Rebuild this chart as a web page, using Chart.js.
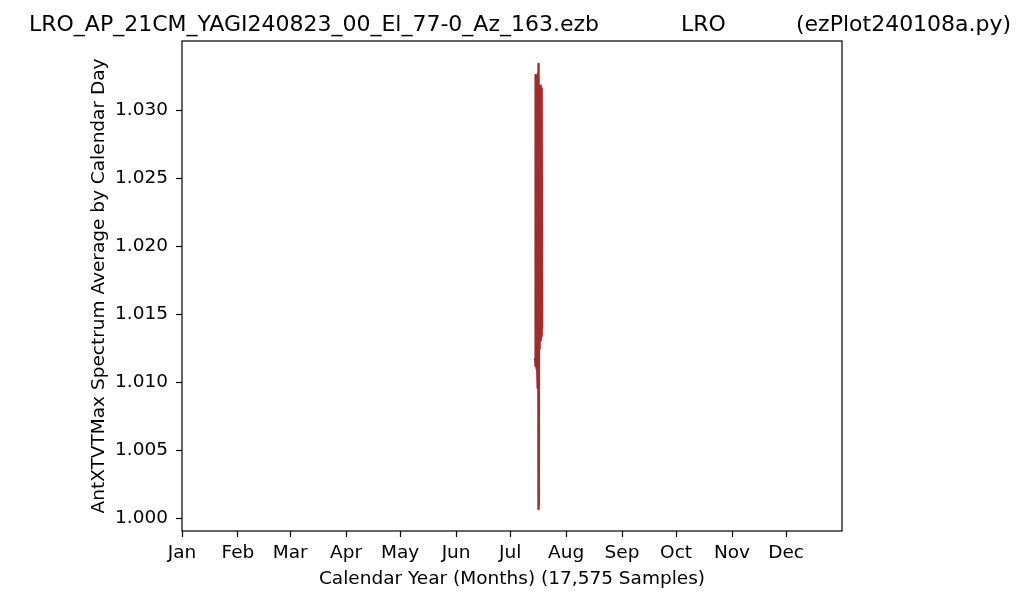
<!DOCTYPE html>
<html>
<head>
<meta charset="utf-8">
<title>LRO AntXTVTMax</title>
<script src="https://cdn.jsdelivr.net/npm/chart.js@4.4.1/dist/chart.umd.min.js"></script>
<style>
  html, body { margin: 0; padding: 0; background: #ffffff; }
  #wrap { width: 1024px; height: 603px; }
</style>
</head>
<body>
<div id="wrap"><canvas id="ezPlot" width="1024" height="603"></canvas></div>
<script>
// title pieces
var titleParts = ["LRO_AP_21CM_YAGI240823_00_El_77-0_Az_163.ezb", "LRO", "(ezPlot240108a.py)"];

// x axis: day of year, month ticks
var monthDays = [0, 31, 60, 91, 121, 152, 182, 213, 244, 274, 305, 335];
var monthNames = ["Jan", "Feb", "Mar", "Apr", "May", "Jun", "Jul", "Aug", "Sep", "Oct", "Nov", "Dec"];

// y axis ticks
var yTicks = [1.000, 1.005, 1.010, 1.015, 1.020, 1.025, 1.030];

// trace (day of year, average)
var dayValues = [
    195.8, 195.95, 196.1, 196.25, 196.4, 196.55, 196.7, 196.85, 197.0, 197.15,
    197.3, 197.45, 197.6, 197.7, 197.75, 197.85, 198.0, 198.15, 198.3, 198.45,
    198.6, 198.75, 198.9, 199.05, 199.2, 199.35, 199.5, 199.65, 199.4, 199.1,
    198.8, 198.5, 198.2, 197.9, 197.8, 197.85
];
var avgValues = [
    1.0118, 1.0326, 1.0112, 1.0324, 1.0115, 1.0325, 1.0110, 1.0322, 1.0111, 1.0318,
    1.0096, 1.0327, 1.0334, 1.0120, 1.0007, 1.0150, 1.0310, 1.0125, 1.0318, 1.0128,
    1.0317, 1.0131, 1.0318, 1.0132, 1.0316, 1.0134, 1.0308, 1.0140, 1.0301, 1.0136,
    1.0314, 1.0130, 1.0316, 1.0122, 1.0010, 1.0140
];

var points = [];
for (var i = 0; i < dayValues.length; i++) {
    points.push({ x: dayValues[i], y: avgValues[i] });
}

var fontFamily = "'DejaVu Sans', sans-serif";
var labelSize = 18.5;

// frame + title drawn like matplotlib
var framePlugin = {
    id: 'frame',
    afterDraw: function(chart) {
        var ctx = chart.ctx;
        var a = chart.chartArea;
        ctx.save();
        ctx.strokeStyle = '#000000';
        ctx.lineWidth = 1.2;
        ctx.strokeRect(a.left, a.top, a.right - a.left, a.bottom - a.top);
        ctx.fillStyle = '#000000';
        ctx.font = "22px " + fontFamily;
        ctx.textBaseline = 'alphabetic';
        ctx.textAlign = 'left';
        ctx.fillText(titleParts[0], 29, 31);
        ctx.fillText(titleParts[1], 681, 31);
        ctx.fillText(titleParts[2], 796, 31);
        ctx.restore();
    }
};

var ctx = document.getElementById("ezPlot").getContext("2d");
var chart = new Chart(ctx, {
    type: 'scatter',
    data: {
        datasets: [
            {
                label: "AntXTVTMax",
                data: points,
                showLine: true,
                borderColor: "#a52a2a",
                backgroundColor: "#a52a2a",
                borderWidth: 2.4,
                borderJoinStyle: 'round',
                borderCapStyle: 'butt',
                pointRadius: 0,
                tension: 0
            }
        ]
    },
    plugins: [framePlugin],
    options: {
        responsive: false,
        animation: false,
        devicePixelRatio: 1,
        layout: {
            padding: { left: 0, right: 182, top: 41, bottom: 0 }
        },
        plugins: {
            legend: { display: false },
            title: { display: false },
            tooltip: { enabled: false }
        },
        scales: {
            x: {
                type: 'linear',
                min: 0,
                max: 366,
                afterBuildTicks: function(scale) {
                    scale.ticks = monthDays.map(function(d) { return { value: d }; });
                },
                afterFit: function(scale) { scale.height = 72; },
                grid: {
                    drawOnChartArea: false,
                    drawTicks: true,
                    tickLength: 6,
                    tickColor: '#000000',
                    tickWidth: 1.2
                },
                border: { display: false },
                ticks: {
                    autoSkip: false,
                    maxRotation: 0,
                    padding: 5,
                    color: '#000000',
                    font: { family: fontFamily, size: labelSize },
                    callback: function(value, index) { return monthNames[index]; }
                },
                title: {
                    display: true,
                    text: "Calendar Year (Months) (17,575 Samples)",
                    color: '#000000',
                    font: { family: fontFamily, size: labelSize },
                    padding: { top: 0, bottom: 13 }
                }
            },
            y: {
                type: 'linear',
                min: 0.99908,
                max: 1.03509,
                afterBuildTicks: function(scale) {
                    scale.ticks = yTicks.map(function(v) { return { value: v }; });
                },
                afterFit: function(scale) { scale.width = 182; },
                grid: {
                    drawOnChartArea: false,
                    drawTicks: true,
                    tickLength: 6,
                    tickColor: '#000000',
                    tickWidth: 1.2
                },
                border: { display: false },
                ticks: {
                    padding: 8,
                    color: '#000000',
                    font: { family: fontFamily, size: labelSize },
                    callback: function(value) { return Number(value).toFixed(3); }
                },
                title: {
                    display: true,
                    text: "AntXTVTMax Spectrum Average by Calendar Day",
                    color: '#000000',
                    font: { family: fontFamily, size: labelSize },
                    padding: { top: 88, bottom: 0 }
                }
            }
        }
    }
});
</script>
</body>
</html>
